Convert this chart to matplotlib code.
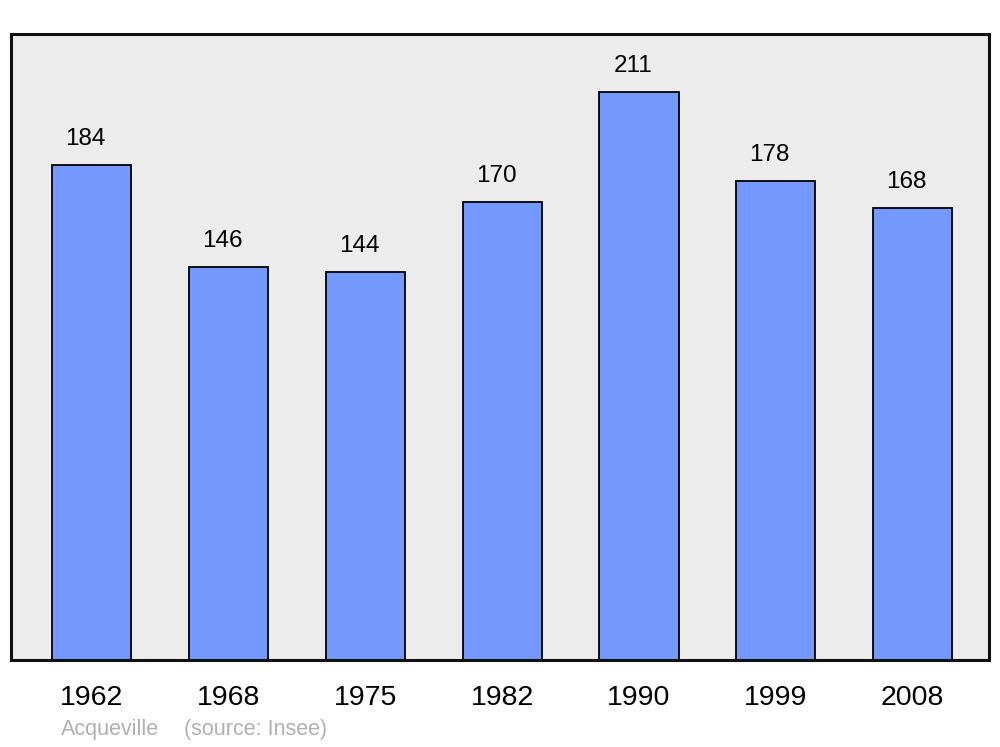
import matplotlib
matplotlib.use("Agg")
import matplotlib.pyplot as plt

years = ["1962", "1968", "1975", "1982", "1990", "1999", "2008"]
population = [184, 146, 144, 170, 211, 178, 168]

plt.rcParams['font.family'] = ['Liberation Sans', 'DejaVu Sans']

fig = plt.figure(figsize=(10, 7.47), dpi=100)
ax = fig.add_axes([0.011, 0.1165, 0.978, 0.838])
ax.set_facecolor("#ececec")

x = list(range(len(years)))
ax.bar(x, population, width=0.578, color="#7399ff", edgecolor="black",
       linewidth=1.3, zorder=2)
for xi, v in zip(x, population):
    ax.text(xi - 0.045, v + 5.5, str(v), ha="center", va="bottom",
            fontsize=17.5, color="black")

ax.set_xlim(-0.592, 6.559)
ax.set_ylim(0, 232.5)
ax.set_yticks([])
ax.set_xticks(x)
ax.set_xticklabels(years, fontsize=20.5)
ax.tick_params(axis="x", length=0, pad=18)
for s in ax.spines.values():
    s.set_linewidth(2.2)
    s.set_color("#111111")

fig.text(0.061, 0.010, "Acqueville", fontsize=15.5, color="#b0b0b0", ha="left", va="bottom")
fig.text(0.184, 0.010, "(source: Insee)", fontsize=15.5, color="#b0b0b0", ha="left", va="bottom")

fig.savefig("out.png", dpi=100)
